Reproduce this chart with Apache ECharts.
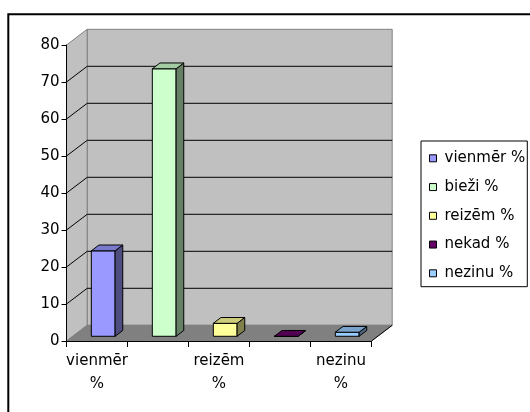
<!DOCTYPE html>
<html><head><meta charset="utf-8">
<script src="https://cdn.jsdelivr.net/npm/echarts@6/dist/echarts.min.js"></script>
<style>html,body{margin:0;padding:0;background:#fff}#c{width:530px;height:412px}</style>
</head><body><div id="c"></div>
<script>
const categories = ['vienmēr %', 'bieži %', 'reizēm %', 'nekad %', 'nezinu %'];
const values = [23.1, 72.3, 3.5, 0, 1.1];
const colors = ['#9999FF', '#CCFFCC', '#FFFF99', '#660066', '#99CCFF'];
const yTicks = [0, 10, 20, 30, 40, 50, 60, 70, 80];

const DX = 20.7, DY = -15.7;      // depth of the 3D box
const FRONT = 0.3, DEPTH = 0.37;  // bar placement in depth
const FONT = 'DejaVu Sans';

function shade(hex, k) {
  const n = parseInt(hex.slice(1), 16);
  const r = Math.round(((n >> 16) & 255) * k), g = Math.round(((n >> 8) & 255) * k), b = Math.round((n & 255) * k);
  return 'rgb(' + r + ',' + g + ',' + b + ')';
}

const chart = echarts.init(document.getElementById('c'));

const wallSeries = {
  type: 'custom', z: 1, silent: true, clip: false,
  data: [[0, 0]],
  renderItem: function (params, api) {
    const cs = params.coordSys;
    const x0 = cs.x, x1 = cs.x + cs.width;
    const yb = api.coord([0, 0])[1], yt = api.coord([0, 80])[1];
    const edge = { stroke: '#808080', lineWidth: 1 };
    return {
      type: 'group', children: [
        { type: 'polygon', shape: { points: [[x0 + DX, yt + DY], [x1 + DX, yt + DY], [x1 + DX, yb + DY], [x0 + DX, yb + DY]] },
          style: Object.assign({ fill: '#C0C0C0' }, edge) },
        { type: 'polygon', shape: { points: [[x0, yt], [x0 + DX, yt + DY], [x0 + DX, yb + DY], [x0, yb]] },
          style: Object.assign({ fill: '#C0C0C0' }, edge) },
        { type: 'polygon', shape: { points: [[x0, yb], [x1, yb], [x1 + DX, yb + DY], [x0 + DX, yb + DY]] },
          style: Object.assign({ fill: '#808080' }, edge) },
        { type: 'line', shape: { x1: x1, y1: yb, x2: x1 + DX, y2: yb + DY }, style: { stroke: '#000', lineWidth: 1 } }
      ]
    };
  }
};

const gridSeries = {
  type: 'custom', z: 2, silent: true, clip: false,
  data: yTicks.filter(v => v > 0 && v < 80).map(v => [0, v]),
  renderItem: function (params, api) {
    const cs = params.coordSys;
    const x0 = cs.x, x1 = cs.x + cs.width;
    const y = api.coord([0, api.value(1)])[1];
    return {
      type: 'group', children: [
        { type: 'line', shape: { x1: x0 + DX, y1: y + DY, x2: x1 + DX, y2: y + DY }, style: { stroke: '#000', lineWidth: 1 } },
        { type: 'line', shape: { x1: x0, y1: y, x2: x0 + DX, y2: y + DY }, style: { stroke: '#000', lineWidth: 1 } }
      ]
    };
  }
};

function barRender(color) {
  return function (params, api) {
    const c = api.value(0), v = api.value(1);
    const base = api.coord([c, 0]), top = api.coord([c, v]);
    const bw = api.size([1, 0])[0] * 0.39;
    const ox = FRONT * DX, oy = FRONT * DY, bx = DEPTH * DX, by = DEPTH * DY;
    const xa = base[0] - bw / 2 + ox, xb = base[0] + bw / 2 + ox;
    const yT = top[1] + oy, yB = base[1] + oy;
    const st = { stroke: '#000', lineWidth: 1, lineJoin: 'round' };
    return {
      type: 'group', children: [
        { type: 'polygon', shape: { points: [[xa, yT], [xb, yT], [xb, yB], [xa, yB]] }, style: Object.assign({ fill: color }, st) },
        { type: 'polygon', shape: { points: [[xb, yT], [xb + bx, yT + by], [xb + bx, yB + by], [xb, yB]] }, style: Object.assign({ fill: shade(color, 0.5) }, st) },
        { type: 'polygon', shape: { points: [[xa, yT], [xb, yT], [xb + bx, yT + by], [xa + bx, yT + by]] }, style: Object.assign({ fill: shade(color, 0.8) }, st) }
      ]
    };
  };
}

const barSeries = categories.map((name, i) => ({
  type: 'custom', name: name, z: 3, clip: false,
  itemStyle: { color: colors[i] },
  data: [[i, values[i]]],
  renderItem: barRender(colors[i])
}));

chart.setOption({
  animation: false,
  textStyle: { fontFamily: FONT },
  graphic: [{
    type: 'rect', silent: true, z: -1,
    shape: { x: 8.3, y: 14.3, width: 700, height: 700 },
    style: { fill: 'none', stroke: '#000', lineWidth: 2 }
  }],
  grid: { left: 66.5, top: 45, width: 305, height: 296 },
  legend: {
    orient: 'vertical', left: 421, top: 141,
    padding: [8.3, 2, 4.4, 8],
    itemWidth: 7, itemHeight: 7, itemGap: 10.75, itemTextGap: 5, icon: 'rect',
    backgroundColor: '#fff', borderColor: '#000', borderWidth: 1, borderRadius: 0,
    textStyle: { fontFamily: FONT, fontSize: 15, color: '#000', lineHeight: 18, padding: [0, 0, 0, 3] },
    data: categories.map((c, i) => ({ name: c, itemStyle: { color: colors[i], borderColor: '#000', borderWidth: 1 } })),
    selectedMode: false
  },
  xAxis: {
    type: 'category', data: categories, z: 5,
    axisLine: { show: true, lineStyle: { color: '#000', width: 1 } },
    axisTick: { show: true, interval: 0, length: 6, lineStyle: { color: '#000' } },
    axisLabel: {
      interval: 1, margin: 9, fontFamily: FONT, fontSize: 15, color: '#000', lineHeight: 23,
      formatter: v => v.replace(' ', '\n')
    },
    splitLine: { show: false }
  },
  yAxis: {
    type: 'value', min: 0, max: 80, interval: 10, z: 5,
    axisLine: { show: true, lineStyle: { color: '#000', width: 1 } },
    axisTick: { show: true, length: 5, lineStyle: { color: '#000' } },
    axisLabel: { margin: 7, fontFamily: FONT, fontSize: 15, color: '#000' },
    splitLine: { show: false }
  },
  series: [wallSeries, gridSeries].concat(barSeries)
});
</script></body></html>
